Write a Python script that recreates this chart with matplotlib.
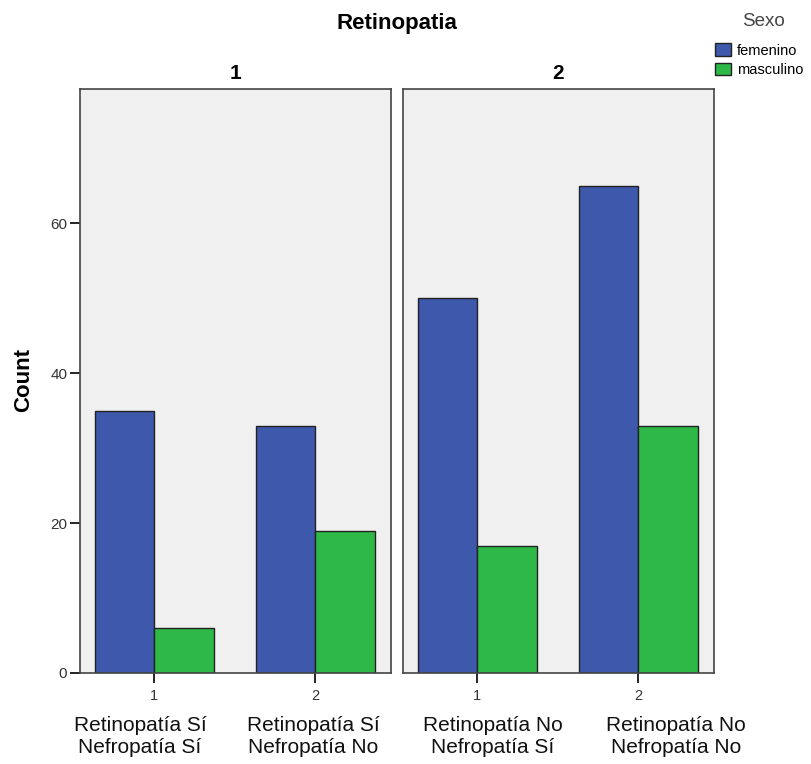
import matplotlib.pyplot as plt
from matplotlib.patches import Patch
import numpy as np

plt.rcParams['font.family'] = ['Liberation Sans', 'DejaVu Sans']

panel_titles = ['1', '2']
groups = [['1', '2'], ['1', '2']]
group_names = ['Retinopatía Sí\nNefropatía Sí', 'Retinopatía Sí\nNefropatía No',
               'Retinopatía No\nNefropatía Sí', 'Retinopatía No\nNefropatía No']
sexo = ['femenino', 'masculino']
femenino = [[35, 33], [50, 65]]
masculino = [[6, 19], [17, 33]]
colors = ['#3E58AC', '#2EB848']

W, H = 812, 764
fig = plt.figure(figsize=(W / 100, H / 100), dpi=100)

lefts = [80, 403]
pw, bottom, top = 311, 673, 89
bw = 0.37

for i in range(2):
    ax = fig.add_axes([lefts[i] / W, 1 - bottom / H, pw / W, (bottom - top) / H])
    ax.set_facecolor('#F0F0F0')
    x = np.arange(2)
    ax.bar(x - bw / 2, femenino[i], bw, color=colors[0], edgecolor='#222222', linewidth=1)
    ax.bar(x + bw / 2, masculino[i], bw, color=colors[1], edgecolor='#222222', linewidth=1)
    ax.set_xlim(-0.46, 1.47)
    ax.set_ylim(0, 77.9)
    ax.set_xticks(x)
    ax.set_xticklabels(groups[i], fontsize=10.5, color='#333333')
    ax.tick_params(axis='x', length=7.2, width=1.2, pad=4)
    for s in ax.spines.values():
        s.set_color('#444444')
        s.set_linewidth(1.2)
    if i == 0:
        ax.set_yticks([0, 20, 40, 60])
        ax.tick_params(axis='y', length=7.2, width=1.2, labelsize=11, labelcolor='#333333', pad=2)
    else:
        ax.set_yticks([])
    ax.set_title(panel_titles[i], fontsize=15, fontweight='bold', pad=7)

# group captions under the panels
for xc, name in zip([140, 313, 493, 676], group_names):
    fig.text(xc / W, 1 - 716 / H, name, ha='center', va='top',
             fontsize=15, color='#111111', linespacing=1.2)

fig.text(24 / W, 1 - 380 / H, 'Count', rotation=90, ha='center', va='center',
         fontsize=16, fontweight='bold')
fig.text(397 / W, 1 - 24 / H, 'Retinopatia', ha='center', va='center', fontsize=16, fontweight='bold')

# legend
fig.text(763 / W, 1 - 22 / H, 'Sexo', ha='center', va='center', fontsize=13.5, color='#444444')
handles = [Patch(facecolor=c, edgecolor='#222222', linewidth=1) for c in colors]
leg = fig.legend(handles, sexo, loc='upper left', bbox_to_anchor=(714 / W, 1 - 42 / H),
                 frameon=False, fontsize=10.5,
                 handlelength=1.1, handleheight=0.9, handletextpad=0.35,
                 labelspacing=0.4, borderpad=0.1, borderaxespad=0)

fig.savefig('out.png', dpi=100)
